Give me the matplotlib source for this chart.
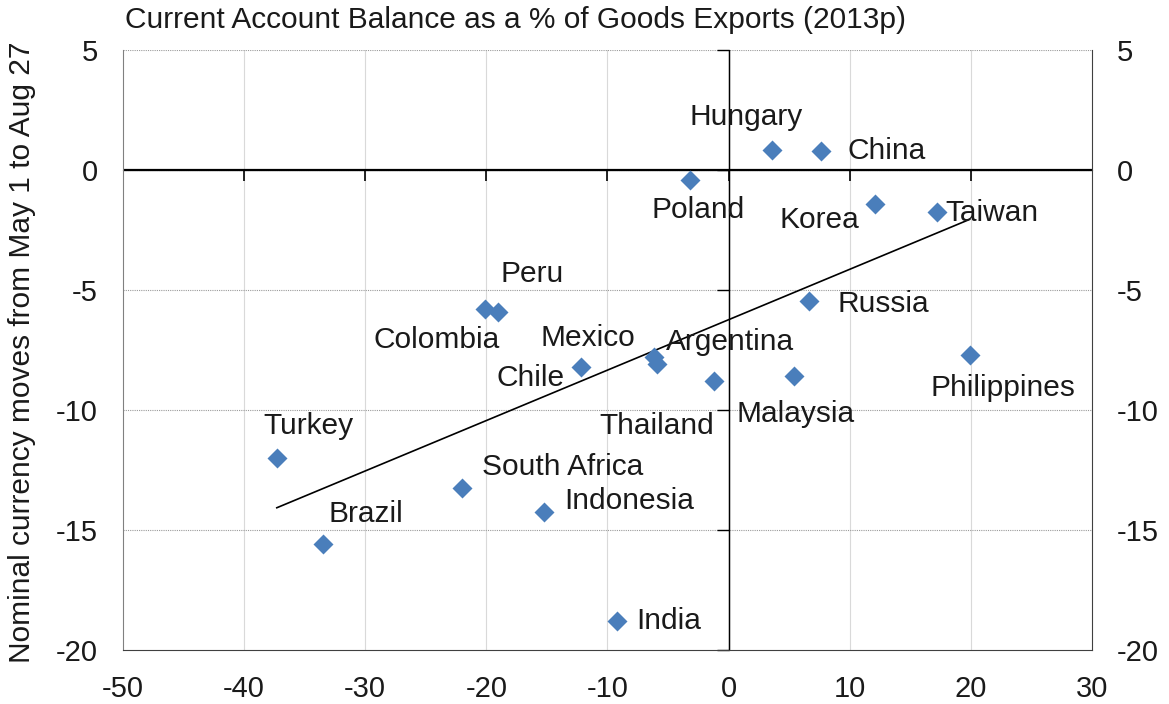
import numpy as np
import matplotlib
matplotlib.use("Agg")
import matplotlib.pyplot as plt

plt.rcParams["font.family"] = ["Liberation Sans", "DejaVu Sans"]
plt.rcParams["axes.unicode_minus"] = False

# Current account balance (% of goods exports, 2013p) vs currency move May 1 - Aug 27
countries = ["Turkey", "Brazil", "South Africa", "Indonesia", "India", "Colombia",
             "Peru", "Chile", "Mexico", "Argentina", "Thailand", "Poland",
             "Hungary", "China", "Korea", "Taiwan", "Russia", "Malaysia",
             "Philippines"]
ca_balance = [-37.3, -33.5, -22.0, -15.2, -9.2, -20.1,
              -19.0, -12.2, -6.15, -5.9, -1.2, -3.2,
              3.6, 7.6, 12.1, 17.2, 6.6, 5.4,
              19.9]
fx_move = [-12.0, -15.6, -13.25, -14.25, -18.8, -5.8,
           -5.9, -8.2, -7.8, -8.1, -8.8, -0.4,
           0.83, 0.8, -1.4, -1.75, -5.45, -8.6,
           -7.7]

# label placement: (dx, dy) in points, horizontal alignment
label_pos = {
    "Turkey": (23, 23, "center"), "Brazil": (31, 22, "center"),
    "South Africa": (14, 15, "left"), "Indonesia": (14, 8, "left"),
    "India": (14, 0, "left"), "Colombia": (-35, -22, "center"),
    "Peru": (24, 27, "center"), "Chile": (-36, -8, "center"),
    "Mexico": (-48, 14, "center"), "Argentina": (6, 16, "left"),
    "Thailand": (-41, -32, "center"), "Poland": (6, -22, "center"),
    "Hungary": (-19, 24, "center"), "China": (19, 0, "left"),
    "Korea": (-40, -12, "center"), "Taiwan": (6, -1, "left"),
    "Russia": (21, -2, "left"), "Malaysia": (1, -27, "center"),
    "Philippines": (24, -24, "center"),
}

fig = plt.figure(figsize=(11.69, 7.04), dpi=100)
ax = fig.add_axes([0.1052, 0.0767, 0.8289, 0.8523])

ax.set_xlim(-50, 30)
ax.set_ylim(-20, 5)
ax.set_xticks(np.arange(-50, 31, 10))
ax.set_yticks(np.arange(-20, 6, 5))

# grid: vertical solid light, horizontal dotted
for xv in np.arange(-40, 30, 10):
    ax.axvline(xv, color="#d9d9d9", lw=0.8, zorder=0)
for yv in np.arange(-15, 6, 5):
    ax.axhline(yv, color="#9a9a9a", lw=0.8, ls=(0, (1, 1)), zorder=0)

ax.tick_params(axis="both", length=0, labelsize=21, colors="#1a1a1a", pad=18)
ax.tick_params(axis="y", labelright=True, right=False)
ax.spines["left"].set_color("#808080")
ax.spines["top"].set_visible(False)
ax.spines["bottom"].set_color("#404040")
ax.spines["right"].set_color("#404040")

# zero axes with small inward ticks
ax.axhline(0, color="black", lw=1.6, zorder=1)
ax.axvline(0, color="black", lw=1.0, zorder=1)
sx = ax.secondary_xaxis(0.8)
sx.set_xticks(np.arange(-40, 30, 10))
sx.set_xticklabels([])
sx.tick_params(direction="in", length=8, width=1.2, color="black")
sx.spines["bottom"].set_visible(False)
sy = ax.secondary_yaxis(0.625)
sy.set_yticks(np.arange(-20, 6, 5))
sy.set_yticklabels([])
sy.tick_params(direction="in", length=9, width=1.0, color="black")
sy.spines["left"].set_visible(False)

# trend line
coef = np.polyfit(ca_balance, fx_move, 1)
xr = np.array([min(ca_balance), max(ca_balance)])
ax.plot(xr, np.polyval(coef, xr), color="black", lw=1.2, zorder=2)

ax.plot(ca_balance, fx_move, ls="none", marker="D", ms=10.5,
        color="#4a7ebb", mec="none", zorder=3)

for name, x, y in zip(countries, ca_balance, fx_move):
    dx, dy, ha = label_pos[name]
    ax.annotate(name, (x, y), xytext=(dx, dy), textcoords="offset points",
                ha=ha, va="center", fontsize=21.5, color="#1a1a1a", zorder=4)

fig.text(0.107, 0.972, "Current Account Balance as a % of Goods Exports (2013p)",
         ha="left", va="center", fontsize=21.5, color="#1a1a1a")
fig.text(0.019, 0.5, "Nominal currency moves from May 1 to Aug 27", rotation=90,
         ha="center", va="center", fontsize=21.5, color="#1a1a1a")

fig.savefig("out.png", dpi=100)
